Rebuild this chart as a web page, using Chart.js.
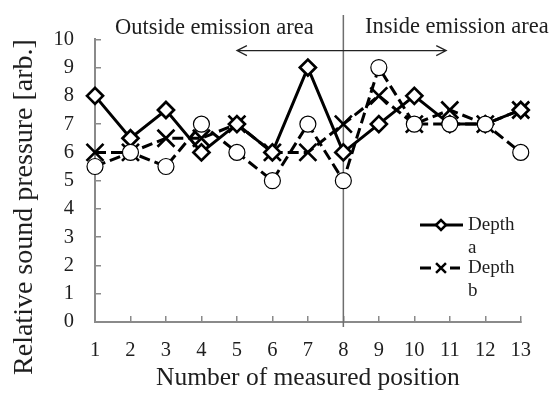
<!DOCTYPE html>
<html>
<head>
<meta charset="utf-8">
<script src="https://cdn.jsdelivr.net/npm/chart.js@4.4.0/dist/chart.umd.min.js"></script>
<style>
  html, body { margin: 0; padding: 0; background: #fff; }
  #wrap { width: 553px; height: 394px; }
</style>
</head>
<body>
<div id="wrap"><canvas id="chart" width="553" height="394"></canvas></div>
<script>
// data
const positions = ['1', '2', '3', '4', '5', '6', '7', '8', '9', '10', '11', '12', '13'];
const depthA = [8, 6.5, 7.5, 6, 7, 6, 9, 6, 7, 8, 7, 7, 7.5];
const depthB = [6, 6, 6.5, 6.5, 7, 6, 6, 7, 8, 7, 7.5, 7, 7.5];
const depthC = [5.5, 6, 5.5, 7, 6, 5, 7, 5, 9, 7, 7, 7, 6];
const legendNames = ['Depth a', 'Depth b'];
const boundaryPos = '8';
const outsideText = 'Outside emission area';
const insideText = 'Inside emission area';

const SERIF = '"Liberation Serif", "Times New Roman", serif';
const AXIS_GRAY = '#8a8a8a';
const TEXT = '#1e1e1e';

// boundary line, arrows, texts, y title and the legend
const extras = {
  id: 'extras',
  beforeDatasetsDraw(chart) {
    const ctx = chart.ctx;
    const x = chart.scales.x;
    const bx = x.getPixelForValue(positions.indexOf(boundaryPos));
    ctx.save();
    ctx.strokeStyle = '#6e6e6e';
    ctx.lineWidth = 1.5;
    ctx.beginPath();
    ctx.moveTo(bx, 15);
    ctx.lineTo(bx, chart.chartArea.bottom + 5);
    ctx.stroke();
    ctx.restore();
  },
  afterDraw(chart) {
    const ctx = chart.ctx;
    const x = chart.scales.x;
    const y = chart.scales.y;
    ctx.save();

    // arrow
    const ay = y.getPixelForValue(9.6);
    const x0 = x.getPixelForValue(4);
    const x1 = x.getPixelForValue(9.9);
    ctx.strokeStyle = '#222';
    ctx.lineWidth = 1.2;
    ctx.beginPath();
    ctx.moveTo(x0, ay); ctx.lineTo(x1, ay);
    ctx.moveTo(x0 + 10, ay - 5); ctx.lineTo(x0, ay); ctx.lineTo(x0 + 10, ay + 5);
    ctx.moveTo(x1 - 10, ay - 5); ctx.lineTo(x1, ay); ctx.lineTo(x1 - 10, ay + 5);
    ctx.stroke();

    // region texts
    ctx.fillStyle = TEXT;
    ctx.font = '22.5px ' + SERIF;
    ctx.textBaseline = 'alphabetic';
    ctx.textAlign = 'left';
    ctx.fillText(outsideText, 115, 34);
    ctx.fillText(insideText, 365, 33);

    // y axis title
    ctx.save();
    ctx.translate(25, 207);
    ctx.rotate(-Math.PI / 2);
    ctx.textAlign = 'center';
    ctx.textBaseline = 'middle';
    ctx.font = '28px ' + SERIF;
    ctx.fillText('Relative sound pressure [arb.]', 0, 0);
    ctx.restore();

    // legend
    const lx = 420, lw = 43;
    const rows = [225, 268];
    ctx.font = '19px ' + SERIF;
    ctx.textBaseline = 'middle';
    rows.forEach((ry, i) => {
      const ds = chart.data.datasets[i];
      ctx.strokeStyle = '#000';
      ctx.lineWidth = 3;
      ctx.beginPath();
      if (i === 0) {
        ctx.moveTo(lx, ry); ctx.lineTo(lx + lw, ry);
      } else {
        ctx.moveTo(lx, ry); ctx.lineTo(lx + 11, ry);
        ctx.moveTo(lx + 30, ry); ctx.lineTo(lx + 40, ry);
      }
      ctx.stroke();
      ctx.fillStyle = '#fff';
      ctx.lineWidth = 2.5;
      Chart.helpers.drawPoint(ctx, {
        pointStyle: ds.pointStyle,
        radius: i === 0 ? 5 : 7,
        borderWidth: 2.5
      }, lx + 21, ry);
      ctx.fillStyle = TEXT;
      const parts = legendNames[i].split(' ');
      ctx.fillText(parts[0], 468, ry);
      ctx.fillText(parts[1], 468, ry + 23);
    });
    ctx.restore();
  }
};

new Chart(document.getElementById('chart'), {
  type: 'line',
  data: {
    labels: positions,
    datasets: [
      {
        label: legendNames[0],
        data: depthA,
        borderColor: '#000',
        borderWidth: 3,
        pointStyle: 'rectRot',
        pointRadius: 8,
        pointBorderWidth: 2.7,
        pointBackgroundColor: '#fff',
        pointBorderColor: '#000',
        tension: 0,
        order: 2
      },
      {
        label: legendNames[1],
        data: depthB,
        borderColor: '#000',
        borderWidth: 3,
        borderDash: [11, 5],
        pointStyle: 'crossRot',
        pointRadius: 12,
        pointBorderWidth: 2.7,
        pointBackgroundColor: '#fff',
        pointBorderColor: '#000',
        tension: 0,
        order: 3
      },
      {
        label: 'Depth c',
        data: depthC,
        borderColor: '#000',
        borderWidth: 3,
        borderDash: [11, 5],
        pointStyle: 'circle',
        pointRadius: 8,
        pointBorderWidth: 1.2,
        pointBackgroundColor: '#fff',
        pointBorderColor: '#000',
        tension: 0,
        order: 1
      }
    ]
  },
  options: {
    responsive: false,
    animation: false,
    layout: { padding: { top: 28, right: 23, left: 0, bottom: 0 } },
    plugins: {
      legend: { display: false },
      tooltip: { enabled: false }
    },
    scales: {
      x: {
        type: 'category',
        offset: false,
        grid: {
          drawOnChartArea: false,
          drawTicks: true,
          tickLength: -6,
          color: AXIS_GRAY,
          lineWidth: 1.5
        },
        border: { color: AXIS_GRAY, width: 2 },
        ticks: {
          color: TEXT,
          font: { family: SERIF, size: 20.5 },
          padding: 22,
          maxRotation: 0,
          autoSkip: false
        },
        title: {
          display: true,
          text: 'Number of measured position',
          color: TEXT,
          font: { family: SERIF, size: 25.5 },
          padding: { top: 0, bottom: 0 }
        },
        afterFit(scale) { scale.height = 72; }
      },
      y: {
        min: 0,
        max: 10,
        grid: {
          drawOnChartArea: false,
          drawTicks: true,
          tickLength: -6,
          color: AXIS_GRAY,
          lineWidth: 1.5
        },
        border: { color: AXIS_GRAY, width: 2 },
        ticks: {
          stepSize: 1,
          color: TEXT,
          font: { family: SERIF, size: 20.5 },
          padding: 27
        },
        afterFit(scale) { scale.width = 95; }
      }
    }
  },
  plugins: [extras]
});
</script>
</body>
</html>
